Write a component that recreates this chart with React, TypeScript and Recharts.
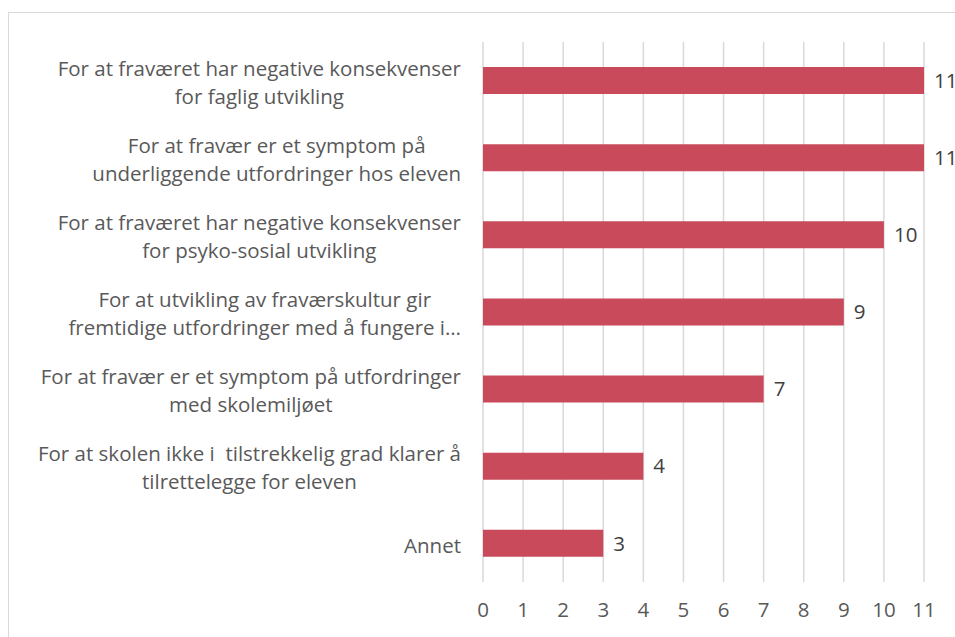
import { Bar, BarChart, CartesianGrid, LabelList, XAxis, YAxis } from 'recharts';

const categoryLines: string[][] = [
  ['For at fraværet har negative konsekvenser', 'for faglig utvikling'],
  ['For at fravær er et symptom på', 'underliggende utfordringer hos eleven'],
  ['For at fraværet har negative konsekvenser', 'for psyko-sosial utvikling'],
  ['For at utvikling av fraværskultur gir', 'fremtidige utfordringer med å fungere i…'],
  ['For at fravær er et symptom på utfordringer', 'med skolemiljøet'],
  ['For at skolen ikke i  tilstrekkelig grad klarer å', 'tilrettelegge for eleven'],
  ['Annet'],
];

const values: number[] = [11, 11, 10, 9, 7, 4, 3];

const xTicks: number[] = [0, 1, 2, 3, 4, 5, 6, 7, 8, 9, 10, 11];

const data = categoryLines.map((lines, i) => ({ name: lines.join(' '), value: values[i] }));

const FONT = '"Open Sans", sans-serif';
const FONT_SIZE = 20.5;

let ctx: CanvasRenderingContext2D | null = null;
function textWidth(s: string) {
  if (!ctx) ctx = document.createElement('canvas').getContext('2d');
  if (!ctx) return s.length * 10;
  ctx.font = `${FONT_SIZE}px ${FONT}`;
  return ctx.measureText(s).width;
}

function CategoryTick(props: any) {
  const { y, payload } = props;
  const idx = data.findIndex((d) => d.name === payload.value);
  const lines = idx >= 0 ? categoryLines[idx] : [String(payload.value)];
  const maxW = Math.max(...lines.map(textWidth));
  const cx = 461 - maxW / 2;
  const lh = 28;
  const top = y + 2 - ((lines.length - 1) * lh) / 2;
  return (
    <text x={cx} y={top} textAnchor="middle" fill="#595959" fontSize={FONT_SIZE} fontFamily={FONT} style={{ whiteSpace: 'pre' }}>
      {lines.map((l, i) => (
        <tspan key={i} x={cx} y={top + i * lh} dy="0.35em">
          {l}
        </tspan>
      ))}
    </text>
  );
}

export default function App() {
  return (
    <div style={{ position: 'absolute', left: 0, top: 0, width: 955, height: 637, background: '#fff', overflow: 'hidden' }}>
      <div
        style={{
          position: 'absolute',
          left: 8,
          top: 12,
          width: 960,
          height: 640,
          border: '1.5px solid #D9D9D9',
          boxSizing: 'border-box',
        }}
      />
      <BarChart
        width={955}
        height={637}
        data={data}
        layout="vertical"
        margin={{ top: 42, right: 31, bottom: 25, left: 0 }}
        style={{ position: 'absolute', left: 0, top: 0 }}
      >
        <CartesianGrid horizontal={false} stroke="#D9D9D9" strokeWidth={1.5} />
        <XAxis
          type="number"
          domain={[0, 11]}
          ticks={xTicks}
          interval={0}
          axisLine={false}
          tickLine={false}
          tickMargin={14}
          height={30}
          tick={{ fill: '#595959', fontSize: FONT_SIZE, fontFamily: FONT }}
        />
        <YAxis type="category" dataKey="name" width={483} axisLine={false} tickLine={false} tick={<CategoryTick />} interval={0} />
        <Bar dataKey="value" fill="#C84A5B" barSize={27} isAnimationActive={false}>
          <LabelList dataKey="value" position="right" offset={10} fill="#404040" fontSize={FONT_SIZE} fontFamily={FONT} />
        </Bar>
      </BarChart>
    </div>
  );
}
